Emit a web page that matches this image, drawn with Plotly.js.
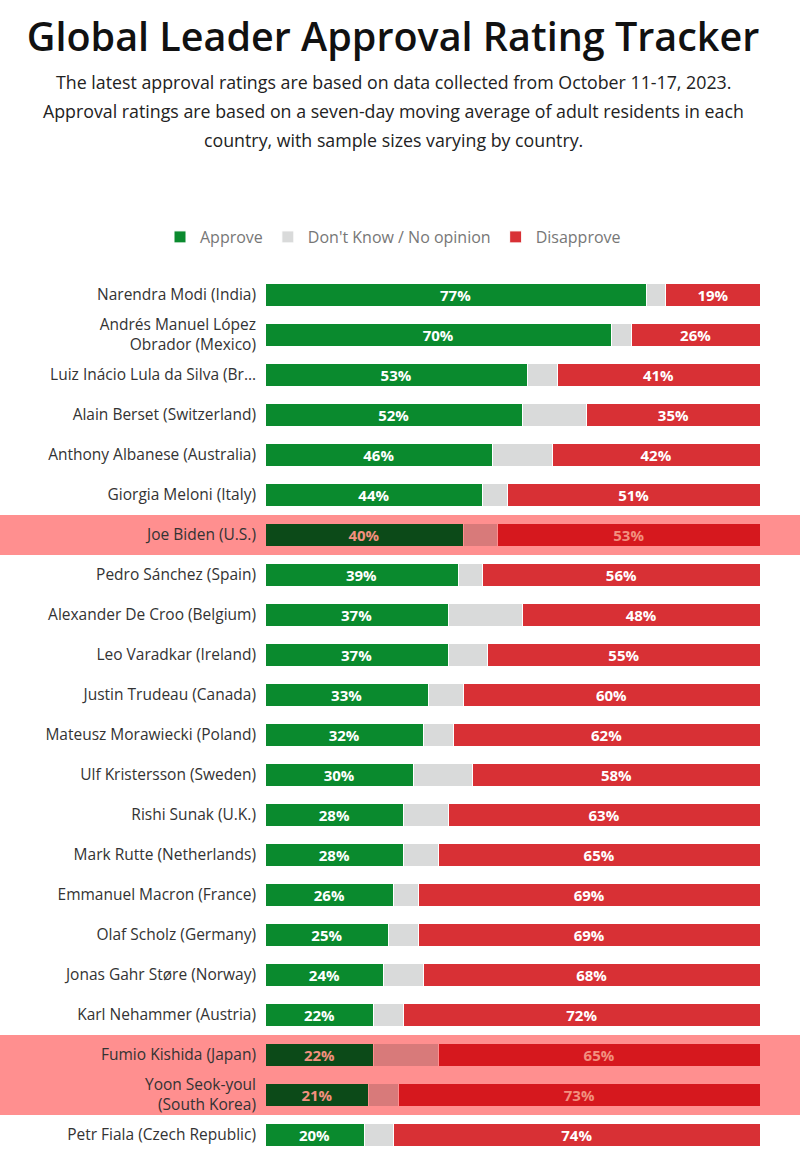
<!DOCTYPE html>
<html>
<head>
<meta charset="utf-8">
<script src="https://cdn.plot.ly/plotly-3.0.1.min.js"></script>
<style>html,body{margin:0;padding:0;background:#fff;}#chart{width:800px;height:1165px;}</style>
</head>
<body>
<div id="chart"></div>
<script>
const leaders = [
  "Narendra Modi (India)",
  "Andrés Manuel López<br>Obrador (Mexico)",
  "Luiz Inácio Lula da Silva (Br…",
  "Alain Berset (Switzerland)",
  "Anthony Albanese (Australia)",
  "Giorgia Meloni (Italy)",
  "Joe Biden (U.S.)",
  "Pedro Sánchez (Spain)",
  "Alexander De Croo (Belgium)",
  "Leo Varadkar (Ireland)",
  "Justin Trudeau (Canada)",
  "Mateusz Morawiecki (Poland)",
  "Ulf Kristersson (Sweden)",
  "Rishi Sunak (U.K.)",
  "Mark Rutte (Netherlands)",
  "Emmanuel Macron (France)",
  "Olaf Scholz (Germany)",
  "Jonas Gahr Støre (Norway)",
  "Karl Nehammer (Austria)",
  "Fumio Kishida (Japan)",
  "Yoon Seok-youl<br>(South Korea)",
  "Petr Fiala (Czech Republic)"
];
const approve    = [77, 70, 53, 52, 46, 44, 40, 39, 37, 37, 33, 32, 30, 28, 28, 26, 25, 24, 22, 22, 21, 20];
const dontKnow   = [ 4,  4,  6, 13, 12,  5,  7,  5, 15,  8,  7,  6, 12,  9,  7,  5,  6,  8,  6, 13,  6,  6];
const disapprove = [19, 26, 41, 35, 42, 51, 53, 56, 48, 55, 60, 62, 58, 63, 65, 69, 69, 68, 72, 65, 73, 74];
const highlighted = ["Joe Biden (U.S.)", "Fumio Kishida (Japan)", "Yoon Seok-youl<br>(South Korea)"];

const FONT = "'Open Sans', 'Noto Sans', sans-serif";
const isHi = leaders.map(n => highlighted.includes(n));
const pick = (a, b) => isHi.map(h => h ? b : a);

const common = {
  type: 'bar', orientation: 'h', y: leaders,
  textposition: 'inside', insidetextanchor: 'middle',
  textfont: { family: FONT, size: 15, weight: 700, color: pick('#ffffff', '#f2907f') },
  hoverinfo: 'skip', cliponaxis: false
};

const traces = [
  Object.assign({}, common, {
    name: 'Approve', x: approve, texttemplate: '%{x}%',
    marker: { color: pick('#0a8a2e', '#0c4a18'), line: { width: 1, color: pick('#ffffff', '#ff8f8f') } }
  }),
  Object.assign({}, common, {
    name: "Don't Know / No opinion", x: dontKnow, texttemplate: '',
    marker: { color: pick('#d9dada', '#d87a7a'), line: { width: 1, color: pick('#ffffff', '#ff8f8f') } }
  }),
  Object.assign({}, common, {
    name: 'Disapprove', x: disapprove, texttemplate: '%{x}%',
    marker: { color: pick('#d83035', '#d6181e'), line: { width: 1, color: pick('#ffffff', '#ff8f8f') } }
  })
];

const shapes = [];
leaders.forEach((n, i) => {
  if (isHi[i]) {
    shapes.push({
      type: 'rect', layer: 'below', xref: 'paper', yref: 'y',
      x0: -265 / 495, x1: 535 / 495, y0: i - 0.5, y1: i + 0.5,
      fillcolor: '#ff8f8f', line: { width: 0 }
    });
  }
});

const subtitle = [
  "The latest approval ratings are based on data collected from October 11-17, 2023.",
  "Approval ratings are based on a seven-day moving average of adult residents in each",
  "country, with sample sizes varying by country."
];
const subY = [82, 111, 140];
const annotations = subtitle.map((t, k) => ({
  text: t, xref: 'paper', yref: 'paper', x: (393 - 265) / 495, y: 1 + (275 - subY[k]) / 880,
  xanchor: 'center', yanchor: 'middle', showarrow: false,
  font: { family: FONT, size: 17.8, color: '#222' }
}));

const layout = {
  width: 800, height: 1165,
  margin: { l: 265, r: 40, t: 275, b: 10, pad: 0 },
  paper_bgcolor: '#ffffff', plot_bgcolor: 'rgba(0,0,0,0)',
  barmode: 'stack', bargap: 0.43,
  title: {
    text: 'Global Leader Approval Rating Tracker',
    font: { family: FONT, size: 39.5, weight: 600, color: '#111' },
    x: 393 / 800, xanchor: 'center', xref: 'container',
    y: 1 - 37 / 1165, yanchor: 'middle', yref: 'container'
  },
  xaxis: { range: [0, 100], visible: false, fixedrange: true },
  yaxis: {
    autorange: 'reversed', showgrid: false, zeroline: false, showline: false, ticks: '',
    ticklabelstandoff: 8,
    tickfont: { family: FONT, size: 15.5, color: '#333' }, fixedrange: true
  },
  showlegend: true,
  legend: {
    orientation: 'h', xref: 'container', yref: 'container',
    x: 393 / 800, xanchor: 'center', y: 1 - 237 / 1165, yanchor: 'middle',
    font: { family: FONT, size: 16, color: '#777' }, traceorder: 'normal',
    itemclick: false, itemdoubleclick: false
  },
  shapes: shapes,
  annotations: annotations,
  uniformtext: { mode: 'show', minsize: 15 }
};

Plotly.newPlot('chart', traces, layout, { displayModeBar: false, staticPlot: true });
</script>
</body>
</html>
